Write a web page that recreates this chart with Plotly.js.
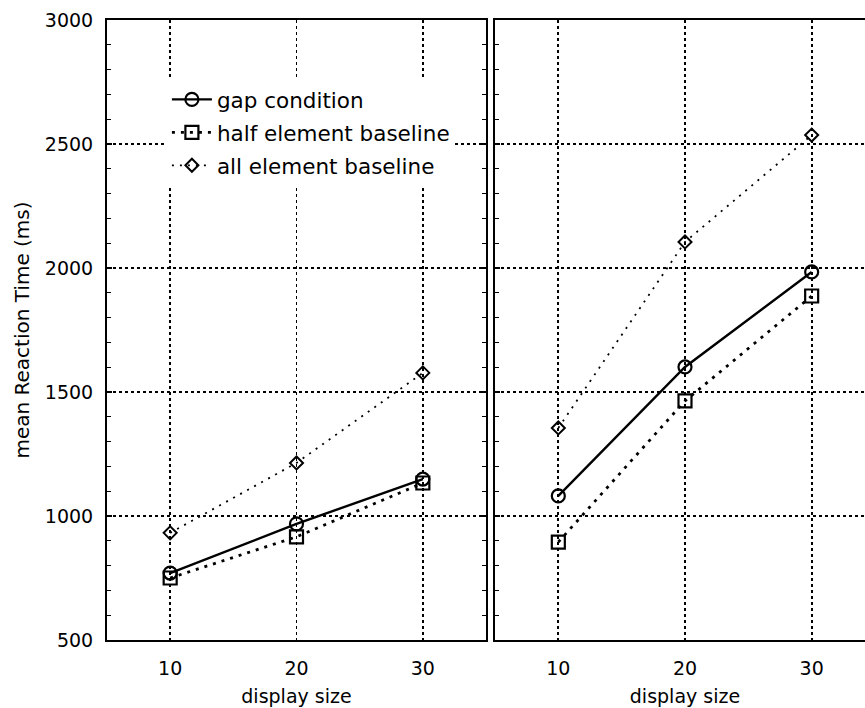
<!DOCTYPE html>
<html>
<head>
<meta charset="utf-8">
<script src="https://cdn.plot.ly/plotly-3.0.1.min.js"></script>
<style>
html, body { margin: 0; padding: 0; overflow: hidden; background: #fff; }
#chart { width: 880px; height: 708px; }
</style>
</head>
<body>
<div id="chart"></div>
<script>
// Data
const displaySize = [10, 20, 30];
const seriesNames = ["gap condition", "half element baseline", "all element baseline"];
// Left panel
const leftGap  = [770, 968, 1149];
const leftHalf = [750, 916, 1133];
const leftAll  = [932, 1214, 1577];
// Right panel
const rightGap  = [1081, 1601, 1984];
const rightHalf = [895, 1464, 1887];
const rightAll  = [1355, 2105, 2536];
const yTicks = [500, 1000, 1500, 2000, 2500, 3000];
const xTicks = [10, 20, 30];

const styles = [
  {line: {color: "#000", width: 2.4, dash: "solid"}, marker: {symbol: "circle-open", size: 13, color: "#000", line: {width: 2.2}}},
  {line: {color: "#000", width: 2.8, dash: "3px,6px"}, marker: {symbol: "square-open", size: 13, color: "#000", line: {width: 2.2}}},
  {line: {color: "#000", width: 1.8, dash: "2px,6px"}, marker: {symbol: "diamond-open", size: 10, color: "#000", line: {width: 2}}}
];

const leftData = [leftGap, leftHalf, leftAll];
const rightData = [rightGap, rightHalf, rightAll];
const traces = [];
leftData.forEach((ys, i) => {
  traces.push({
    x: displaySize, y: ys, type: "scatter", mode: "lines+markers",
    name: seriesNames[i], legendgroup: "g" + i,
    xaxis: "x", yaxis: "y",
    line: styles[i].line, marker: styles[i].marker
  });
});
rightData.forEach((ys, i) => {
  traces.push({
    x: displaySize, y: ys, type: "scatter", mode: "lines+markers",
    name: seriesNames[i], legendgroup: "g" + i, showlegend: false,
    xaxis: "x2", yaxis: "y2",
    line: styles[i].line, marker: styles[i].marker
  });
});

const font = {family: "DejaVu Sans", size: 19, color: "#000"};
function xAxis(domain, anchor) {
  return {
    domain: domain, anchor: anchor, range: [5, 35],
    tickvals: xTicks, ticktext: xTicks.map(String),
    ticks: "", showline: true, linecolor: "#000", linewidth: 2, mirror: true,
    showgrid: true, gridcolor: "#000", griddash: "dot", gridwidth: 1.8,
    zeroline: false, tickfont: font, ticklabelstandoff: 10,
    title: {text: "display size", font: font, standoff: 12}
  };
}
function yAxis(anchor, showLabels) {
  return {
    domain: [0, 1], anchor: anchor, range: [500, 3000],
    tickvals: yTicks, ticktext: yTicks.map(String), showticklabels: showLabels,
    ticks: "inside", ticklen: 5, tickwidth: 1.5, tickcolor: "#000",
    minor: {dtick: 100, ticks: "inside", ticklen: 4, tickwidth: 1.2, tickcolor: "#000", showgrid: false},
    showline: true, linecolor: "#000", linewidth: 2, mirror: "ticks",
    showgrid: true, gridcolor: "#000", griddash: "dot", gridwidth: 1.8,
    zeroline: false, tickfont: font, ticklabelstandoff: 8,
    title: showLabels ? {text: "mean Reaction Time (ms)", font: {family: "DejaVu Sans", size: 20, color: "#000"}, standoff: 10} : {text: ""}
  };
}

const layout = {
  width: 880, height: 708,
  margin: {l: 107, r: 5, t: 20, b: 68},
  paper_bgcolor: "#fff", plot_bgcolor: "#fff",
  font: font,
  showlegend: true,
  legend: {
    x: 0.078, y: 0.905, xanchor: "left", yanchor: "top",
    bgcolor: "#fff", borderwidth: 0,
    font: {family: "DejaVu Sans", size: 21.5, color: "#000"},
    traceorder: "grouped", tracegroupgap: 2, itemwidth: 40
  },
  xaxis: xAxis([0, 0.4935], "y"),
  yaxis: yAxis("x", true),
  xaxis2: xAxis([0.5052, 1], "y2"),
  yaxis2: yAxis("x2", false)
};

Plotly.newPlot("chart", traces, layout, {staticPlot: true, displayModeBar: false});
</script>
</body>
</html>
